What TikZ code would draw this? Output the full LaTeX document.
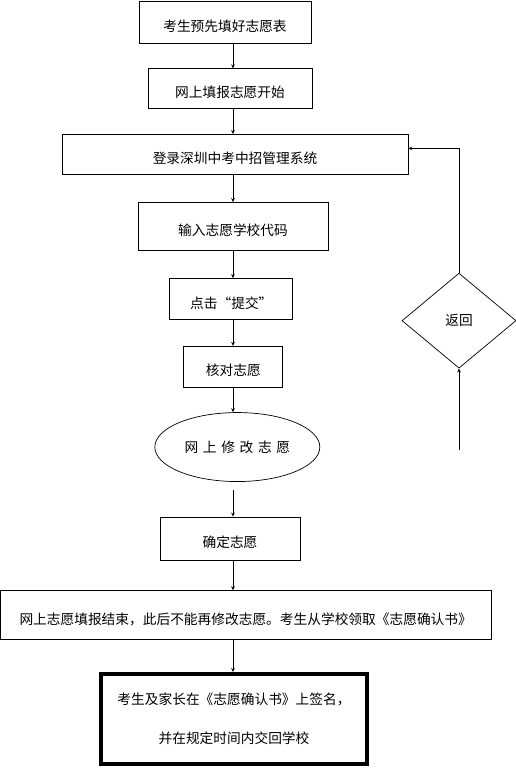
\documentclass[tikz,border=0pt]{standalone}
\usepackage{fontspec}
\setmainfont{Noto Sans CJK SC}
\usepackage{tikz}
\usetikzlibrary{positioning, arrows.meta, shapes.geometric}

\begin{document}
\begin{tikzpicture}[
    node distance=0.75cm,
    font=\fontsize{11.7}{14}\selectfont,
    mybox/.style={draw, line width=0.6pt, inner sep=0pt, align=center, text height=0.6cm, text depth=0.05cm},
    mybigbox/.style={draw, line width=3.2pt, inner sep=0pt, align=center},
    myellipse/.style={draw, ellipse, line width=0.6pt, inner sep=0pt},
    mydiamond/.style={draw, diamond, line width=0.6pt, inner sep=0pt},
    myarrow/.style={-{Stealth[length=1.2mm, width=1.1mm]}, line width=0.6pt}
]
  \useasboundingbox (0,0) rectangle (15.48,-23.04);
  \coordinate (axis) at (6.99,0);

  % Nodes
  \node[mybox, minimum width=5.16cm, minimum height=1.26cm] (fill) at (6.75,-0.66) {考生预先填好志愿表};
  \node[mybox, minimum width=4.92cm, minimum height=1.2cm, below=of fill, xshift=0.15cm] (start) {网上填报志愿开始};
  \node[mybox, minimum width=10.38cm, minimum height=1.2cm, below=of start, xshift=0.15cm] (login) {登录深圳中考中招管理系统};
  \node[mybox, minimum width=5.7cm, minimum height=1.44cm, below=0.82cm of login, xshift=-0.06cm] (code) {输入志愿学校代码};
  \node[mybox, minimum width=3.69cm, minimum height=1.23cm, below=0.82cm of code, xshift=-0.05cm] (submit) {点击“提交”};
  \node[mybox, minimum width=2.97cm, minimum height=1.23cm, below=0.78cm of submit, xshift=0.06cm] (check) {核对志愿};
  \node[myellipse, minimum width=4.95cm, minimum height=2.07cm, below=0.74cm of check, xshift=0.12cm] (modify)
    {网\hspace{0.14cm}上\hspace{0.14cm}修\hspace{0.14cm}改\hspace{0.14cm}志\hspace{0.14cm}愿};
  \node[mybox, minimum width=4.2cm, minimum height=1.29cm, below=1.04cm of modify, xshift=-0.22cm] (confirm) {确定志愿};
  \node[mybox, minimum width=14.73cm, minimum height=1.47cm, below=0.9cm of confirm, xshift=0.47cm] (finish)
    {网上志愿填报结束，此后不能再修改志愿。考生从学校领取《志愿确认书》};
  \node[mybigbox, minimum width=7.98cm, minimum height=2.7cm, below=0.96cm of finish, xshift=-0.35cm] (sign)
    {考生及家长在《志愿确认书》上签名，\\[0.68cm]并在规定时间内交回学校};

  \node[mydiamond, minimum width=3.42cm, minimum height=2.85cm] (back) at (13.77,-9.62) {返回};
  \coordinate[below=2.43cm of back.south] (backin);

  % Arrows
  \draw[myarrow] (axis |- fill.south) -- (axis |- start.north);
  \draw[myarrow] (axis |- start.south) -- (axis |- login.north);
  \draw[myarrow] (axis |- login.south) -- (axis |- code.north);
  \draw[myarrow] (axis |- code.south) -- (axis |- submit.north);
  \draw[myarrow] (axis |- submit.south) -- (axis |- check.north);
  \draw[myarrow] (axis |- check.south) -- (axis |- modify.north);
  \draw[myarrow] ([yshift=-0.24cm]axis |- modify.south) -- (axis |- confirm.north);
  \draw[myarrow] (axis |- confirm.south) -- (axis |- finish.north);
  \draw[myarrow] (axis |- finish.south) -- (axis |- sign.north);

  \draw[myarrow] (back.north) |- ([yshift=0.18cm]login.east);
  \draw[myarrow] (backin) -- (back.south);

\end{tikzpicture}
\end{document}
